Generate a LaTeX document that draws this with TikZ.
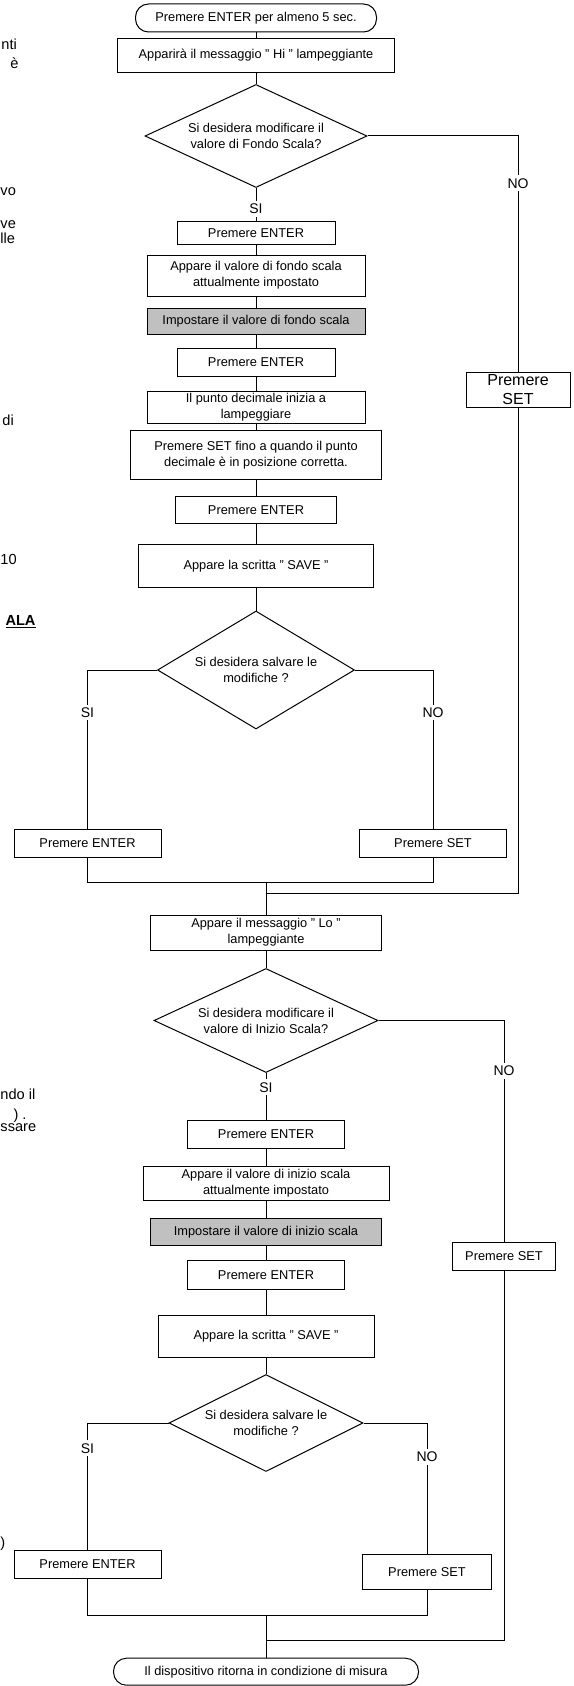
\documentclass[tikz,border=0pt]{standalone}
\usepackage{fontspec}
\setmainfont{Liberation Sans}
\usetikzlibrary{shapes.geometric}
\definecolor{boxgray}{RGB}{192,192,192}

\begin{document}
\begin{tikzpicture}[x=0.5pt, y=-0.5pt, line width=0.5pt,
	box/.style = {draw, rectangle, fill=white, align=center, inner sep=1pt, font=\fontsize{6.4}{8}\selectfont},
	term/.style = {box, rounded corners=6.5pt},
	ask/.style = {draw, diamond, fill=white, align=center, inner sep=0pt, font=\fontsize{6.4}{8}\selectfont},
	answer/.style = {fill=white, inner sep=1.5pt, font=\fontsize{7}{8}\selectfont},
	margin/.style = {anchor=west, inner sep=0pt, font=\fontsize{7.3}{9}\selectfont}]
	
	\useasboundingbox (0,0) rectangle (573,1686);
	
	\node[margin] (m1) at (1,44) {nti};
	\node[margin] (m2) at (10,63) {è};
	\node[margin] (m3) at (0,192) {vo};
	\node[margin] (m4) at (0,225) {ve};
	\node[margin] (m5) at (0,238) {lle};
	\node[margin] (m6) at (2,420) {di};
	\node[margin] (m7) at (0,559) {10};
	\node[margin] (m8) at (5,622) {\underline{\textbf{ALA}}};
	\node[margin] (m9) at (0,1094) {ndo il};
	\node[margin] (m10) at (13,1116) {) .};
	\node[margin] (m11) at (0,1128) {ssare};
	\node[margin] (m12) at (0,1544) {)};
	
	\node[term, minimum width=120.5pt, minimum height=14pt] (start) at (256,18) {Premere ENTER per almeno 5 sec.};
	\node[box, minimum width=138.5pt, minimum height=17pt] (boxA) at (256,55.5) {Apparirà il messaggio " Hi " lampeggiante};
	\node[ask, shape aspect=2.15, minimum width=111pt, minimum height=51.5pt] (dec1) at (256,136) {Si desidera modificare il\\valore di Fondo Scala?};
	\node[box, minimum width=79pt, minimum height=11.5pt] (ent1) at (256,233) {Premere ENTER};
	\node[box, minimum width=109pt, minimum height=20.5pt] (val1) at (256,275.5) {Appare il valore di fondo scala\\attualmente impostato};
	\node[box, fill=boxgray, minimum width=109pt, minimum height=13pt] (imp1) at (256,321.3) {Impostare il valore di fondo scala};
	\node[box, minimum width=79pt, minimum height=14pt] (ent2) at (256,362.5) {Premere ENTER};
	\node[box, minimum width=109pt, minimum height=13.5pt] (dot) at (256,407.3) {Il punto decimale inizia a\\lampeggiare};
	\node[box, minimum width=125.5pt, minimum height=24.5pt] (setfino) at (256,455) {Premere SET fino a quando il punto\\decimale è in posizione corretta.};
	\node[box, minimum width=80.5pt, minimum height=13.5pt] (ent3) at (256,510.3) {Premere ENTER};
	\node[box, minimum width=117.5pt, minimum height=21.5pt] (save1) at (256,566.3) {Appare la scritta " SAVE "};
	\node[ask, shape aspect=1.67, minimum width=98.5pt, minimum height=59pt] (dec2) at (256,670) {Si desidera salvare le\\modifiche ?};
	
	\node[box, font=\fontsize{8}{9.5}\selectfont, minimum width=52pt, minimum height=17pt] (setA) at (518,390) {Premere\\SET};
	
	\node[box, minimum width=73.5pt, minimum height=14pt] (entL1) at (87.5,843) {Premere ENTER};
	\node[box, minimum width=73.5pt, minimum height=14pt] (setR1) at (433,843) {Premere SET};
	
	\coordinate (j1) at (266,882.7);
	\coordinate (j2) at (266,893.3);
	
	\node[box, minimum width=115.5pt, minimum height=17.5pt] (lo) at (266,932.5) {Appare il messaggio " Lo "\\lampeggiante};
	\node[ask, shape aspect=2.15, minimum width=112pt, minimum height=52pt] (dec3) at (266,1020.5) {Si desidera modificare il\\valore di Inizio Scala?};
	\node[box, minimum width=78.5pt, minimum height=14pt] (ent4) at (266,1134) {Premere ENTER};
	\node[box, minimum width=123pt, minimum height=17pt] (val2) at (266,1183) {Appare il valore di inizio scala\\attualmente impostato};
	\node[box, fill=boxgray, minimum width=115.5pt, minimum height=13.5pt] (imp2) at (266,1231.7) {Impostare il valore di inizio scala};
	\node[box, minimum width=78.5pt, minimum height=14.5pt] (ent5) at (266,1275) {Premere ENTER};
	\node[box, minimum width=108pt, minimum height=21pt] (save2) at (266,1336) {Appare la scritta " SAVE "};
	\node[ask, shape aspect=2, minimum width=97pt, minimum height=48.5pt] (dec4) at (266,1423) {Si desidera salvare le\\modifiche ?};
	
	\node[box, minimum width=51.5pt, minimum height=14pt] (setB) at (504,1256) {Premere SET};
	
	\node[box, minimum width=73.5pt, minimum height=14pt] (entL2) at (87.5,1564.5) {Premere ENTER};
	\node[box, minimum width=64.5pt, minimum height=17.5pt] (setR2) at (427,1571.7) {Premere SET};
	
	\coordinate (j3) at (266,1615);
	\coordinate (j4) at (266,1640.7);
	
	\node[term, minimum width=152.5pt, minimum height=13.5pt] (end) at (266,1671.7) {Il dispositivo ritorna in condizione di misura};
	
	
	\draw (start) -- (boxA);
	\draw (boxA) -- (dec1);
	\draw (dec1) -- node[answer, pos=0.63] (si1) {SI} (ent1);
	\draw (dec1.east) -| node[answer, pos=0.6] (no1) {NO} (setA.north);
	\draw (ent1) -- (val1);
	\draw (val1) -- (imp1);
	\draw (imp1) -- (ent2);
	\draw (ent2) -- (dot);
	\draw (dot) -- (setfino);
	\draw (setfino) -- (ent3);
	\draw (ent3) -- (save1);
	\draw (save1) -- (dec2);
	\draw (dec2.west) -| node[answer, pos=0.634] (si2) {SI} (entL1.north);
	\draw (dec2.east) -| node[answer, pos=0.634] (no2) {NO} (setR1.north);
	\draw (entL1.south) |- (j1) -| (setR1.south);
	\draw (setA.south) |- (j2);
	\draw (j1) -- (lo);
	
	\draw (lo) -- (dec3);
	\draw (dec3) -- node[answer, pos=0.31] (si3) {SI} (ent4);
	\draw (dec3.east) -| node[answer, pos=0.614] (no3) {NO} (setB.north);
	\draw (ent4) -- (val2);
	\draw (val2) -- (imp2);
	\draw (imp2) -- (ent5);
	\draw (ent5) -- (save2);
	\draw (save2) -- (dec4);
	\draw (dec4.west) -| node[answer, pos=0.6] (si4) {SI} (entL2.north);
	\draw (dec4.east) -| node[answer, pos=0.63] (no4) {NO} (setR2.north);
	\draw (entL2.south) |- (j3) -| (setR2.south);
	\draw (setB.south) |- (j4);
	\draw (j3) -- (end);
	
\end{tikzpicture}
\end{document}
